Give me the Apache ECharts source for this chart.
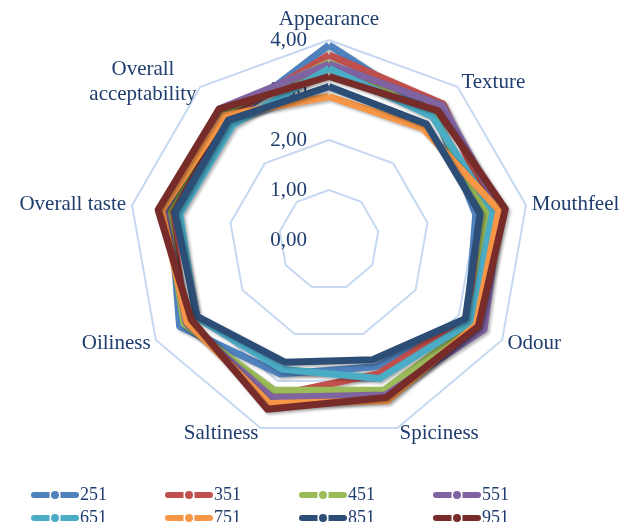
<!DOCTYPE html>
<html>
<head>
<meta charset="utf-8">
<script src="https://cdn.jsdelivr.net/npm/echarts@6/dist/echarts.min.js"></script>
<style>html,body{margin:0;padding:0;background:#fff}#c{width:635px;height:522px}</style>
</head>
<body>
<div id="c"></div>
<script>
// Indicators in clockwise order starting at the top
var indicators = ['Appearance', 'Texture', 'Mouthfeel', 'Odour', 'Spiciness', 'Saltiness', 'Oiliness', 'Overall taste', 'Overall acceptability'];
var seriesNames = ['251', '351', '451', '551', '651', '751', '851', '951'];
var s251 = [3.90, 3.30, 2.98, 3.20, 2.70, 2.85, 3.45, 3.22, 3.10];
var s351 = [3.70, 3.55, 3.30, 3.15, 2.85, 3.32, 3.30, 3.22, 3.20];
var s451 = [3.55, 3.25, 3.20, 3.35, 3.20, 3.20, 3.35, 3.30, 3.34];
var s551 = [3.52, 3.52, 3.48, 3.58, 3.30, 3.35, 3.30, 3.35, 3.42];
var s651 = [3.43, 3.22, 3.33, 3.28, 2.95, 2.75, 3.08, 3.03, 3.00];
var s751 = [2.87, 2.92, 3.45, 3.40, 3.42, 3.48, 3.28, 3.40, 3.25];
var s851 = [3.07, 3.03, 3.07, 3.15, 2.55, 2.60, 3.05, 3.13, 3.13];
var s951 = [3.27, 3.38, 3.58, 3.45, 3.35, 3.60, 3.18, 3.47, 3.42];
var tickValues = [0, 1, 2, 3, 4];
var axisMax = 4;

var allValues = [s251, s351, s451, s551, s651, s751, s851, s951];
var colors = ['#4F81BD', '#C0504D', '#9BBB59', '#8064A2', '#4BACC6', '#F79646', '#2C4D75', '#772C2A'];
var textColor = '#1F3D6E';
var serif = '"Liberation Serif", "Times New Roman", serif';

// ECharts radar goes counter-clockwise; reorder so that the picture is clockwise
function toCCW(arr) { return [arr[0]].concat(arr.slice(1).reverse()); }

var indicatorOpts = toCCW(indicators).map(function (n, i) {
  var o = { name: n, min: 0, max: axisMax };
  if (i === 0) o.axisLabel = { show: true };
  return o;
});

var chart = echarts.init(document.getElementById('c'), null, { renderer: 'canvas' });

var iconPath = 'path://M2.5,2 L18,2 L18,8 L2.5,8 A3,3 0 0 1 2.5,2 Z M29,2 L44.5,2 A3,3 0 0 1 44.5,8 L29,8 Z M23.5,1 A4,4 0 1 1 23.5,9 A4,4 0 1 1 23.5,1 Z';

function legend(names, top) {
  return {
    data: names.map(function (n) { return { name: n, icon: iconPath }; }),
    left: 26, top: top, width: 600,
    orient: 'horizontal',
    itemWidth: 48, itemHeight: 10, itemGap: 58,
    textStyle: { color: textColor, fontFamily: serif, fontSize: 18, padding: [0, 0, 0, -4], lineHeight: 20 }
  };
}

chart.setOption({
  animation: false,
  color: colors,
  legend: [legend(seriesNames.slice(0, 4), 480), legend(seriesNames.slice(4), 503)],
  radar: {
    center: [329, 240],
    radius: 200,
    startAngle: 90,
    splitNumber: tickValues.length - 1,
    shape: 'polygon',
    indicator: indicatorOpts,
    axisName: {
      color: textColor, fontFamily: serif, fontSize: 21,
      formatter: function (n) {
        if (n === 'Overall acceptability') return '{c|Overall}\n{c|acceptability}';
        return n;
      },
      rich: { c: { align: 'center', color: textColor, fontFamily: serif, fontSize: 21, lineHeight: 25 } }
    },
    nameGap: 6,
    axisLine: { show: false },
    axisTick: { show: false },
    axisLabel: {
      show: false, color: textColor, fontFamily: serif, fontSize: 21, margin: 22,
      formatter: function (v) { return v.toFixed(2).replace('.', ','); }
    },
    splitLine: { lineStyle: { color: '#C6D9F0', width: 2 } },
    splitArea: { show: false }
  },
  series: [{
    type: 'radar',
    symbol: 'none',
    data: allValues.map(function (vals, i) {
      return {
        name: seriesNames[i],
        value: toCCW(vals),
        lineStyle: { color: colors[i], width: 7, shadowColor: 'rgba(0,0,0,0.3)', shadowBlur: 3, shadowOffsetX: 2, shadowOffsetY: 2 },
        itemStyle: { color: colors[i] }
      };
    })
  }]
});
</script>
</body>
</html>
